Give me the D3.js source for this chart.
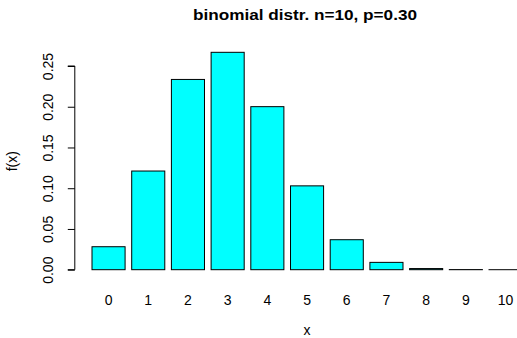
<!DOCTYPE html>
<html><head><meta charset="utf-8">
<script src="https://cdn.jsdelivr.net/npm/d3@7"></script>
<style>body{margin:0;background:#fff}svg{display:block}text{font-family:"Liberation Sans",Arial,sans-serif;fill:#000}</style>
</head><body>
<script>
const categories = ["0","1","2","3","4","5","6","7","8","9","10"];
const probs = [0.0282, 0.1211, 0.2335, 0.2668, 0.2001, 0.1029, 0.0368, 0.0090, 0.0014, 0.000138, 0.0000059];
const yTicks = [0.00, 0.05, 0.10, 0.15, 0.20, 0.25];
const titleText = "binomial distr. n=10, p=0.30";

const W = 517, H = 338;
const svg = d3.select("body").append("svg").attr("width", W).attr("height", H);

const xs = d3.scaleLinear().domain([-0.32, 13.72]).range([74.8, 539.3]);
const ys = d3.scaleLinear().domain([0, 0.25]).range([269.7, 66]);

svg.append("g").selectAll("rect").data(probs).join("rect")
  .attr("x", (d,i) => xs(0.2 + 1.2*i))
  .attr("width", (d,i) => xs(1.2 + 1.2*i) - xs(0.2 + 1.2*i))
  .attr("y", d => ys(d))
  .attr("height", d => ys(0) - ys(d))
  .attr("fill", "#00FFFF")
  .attr("stroke", "#000")
  .attr("stroke-width", 1);

const yAxis = d3.axisLeft(ys).tickValues(yTicks).tickFormat(d3.format(".2f")).tickSize(7).tickPadding(0);
const gy = svg.append("g").attr("transform", "translate(74.8,0)").call(yAxis);
gy.select(".domain").attr("d", `M-7,${ys(0)}H0V${ys(0.25)}H-7`).attr("stroke", "#000");
gy.selectAll(".tick line").attr("stroke", "#000");
gy.selectAll(".tick text")
  .attr("x", 0).attr("y", 0).attr("dy", null)
  .attr("transform", "translate(-22,0) rotate(-90)")
  .attr("text-anchor", "middle")
  .style("font-size", "14px")
  .style("font-family", "Liberation Sans, Arial, sans-serif");

svg.append("g").selectAll("text").data(categories).join("text")
  .attr("x", (d,i) => xs(0.7 + 1.2*i))
  .attr("y", 304.5)
  .attr("text-anchor", "middle")
  .style("font-size", "14px")
  .text(d => d);

svg.append("text").attr("x", xs(6.7)).attr("y", 335).attr("text-anchor", "middle").style("font-size", "14px").text("x");
svg.append("text").attr("transform", `translate(17,${(44+278.4)/2}) rotate(-90)`).attr("text-anchor", "middle").style("font-size", "14px").text("f(x)");
svg.append("text").attr("x", 305).attr("y", 20).attr("text-anchor", "middle")
  .attr("textLength", 224).attr("lengthAdjust", "spacingAndGlyphs")
  .style("font-size", "15px").style("font-weight", "bold").text(titleText);
</script>
</body></html>
